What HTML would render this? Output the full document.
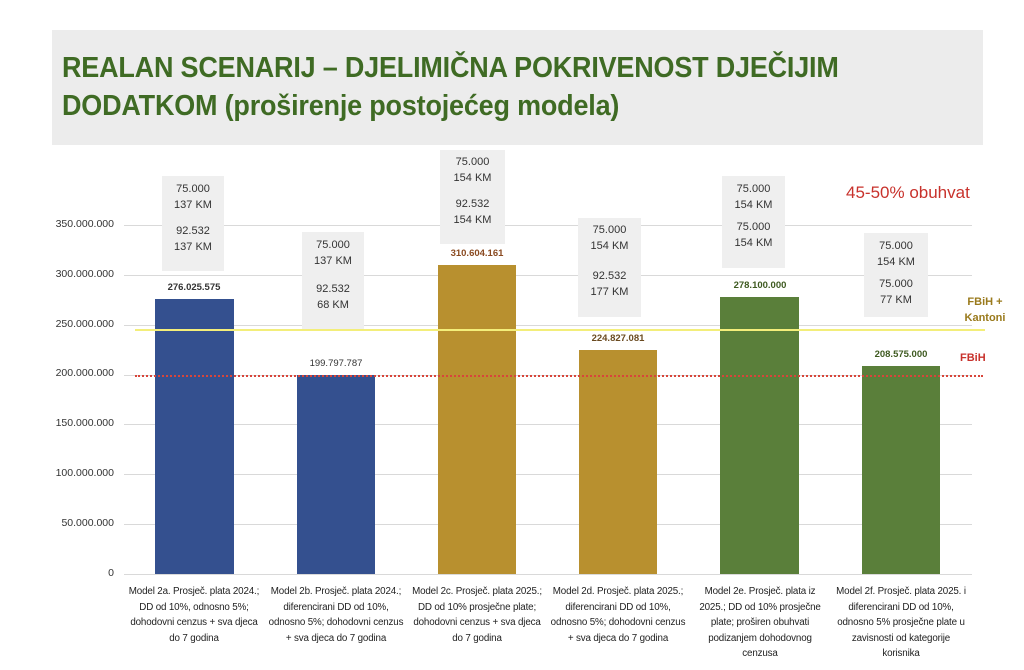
<!DOCTYPE html>
<html><head><meta charset="utf-8"><style>
body{margin:0;width:1024px;height:670px;background:#fff;position:relative;overflow:hidden;font-family:"Liberation Sans",sans-serif;}
.a{position:absolute}
.t{left:52px;top:30px;width:931px;height:115px;background:#ececec}
.t div{position:absolute;left:10px;top:19px;font-weight:bold;font-size:29px;line-height:38px;color:#3f6b24;letter-spacing:-0.2px;transform:scaleX(0.93);transform-origin:left;white-space:nowrap}
.yl{width:80px;left:34px;text-align:right;font-size:10.5px;color:#333}
.g{left:124px;width:848px;height:1px;background:#d9d9d9}
.bar{position:absolute}
.box{position:absolute;background:#efefef;text-align:center;font-size:11px;color:#333;line-height:16px}
.v{position:absolute;width:120px;text-align:center;font-size:9.5px;font-weight:bold;color:#333}
.c{position:absolute;width:142px;text-align:center;font-size:9.8px;line-height:15.5px;color:#222;top:584px;letter-spacing:-0.15px;white-space:nowrap}
</style></head><body>
<div class="a t"><div>REALAN SCENARIJ – DJELIMIČNA POKRIVENOST DJEČIJIM<br>DODATKOM (proširenje postojećeg modela)</div></div>

<div class="a g" style="top:225px"></div>
<div class="a g" style="top:275px"></div>
<div class="a g" style="top:325px"></div>
<div class="a g" style="top:375px"></div>
<div class="a g" style="top:424px"></div>
<div class="a g" style="top:474px"></div>
<div class="a g" style="top:524px"></div>
<div class="a g" style="top:574px"></div>

<div class="a yl" style="top:218px">350.000.000</div>
<div class="a yl" style="top:268px">300.000.000</div>
<div class="a yl" style="top:318px">250.000.000</div>
<div class="a yl" style="top:367px">200.000.000</div>
<div class="a yl" style="top:417px">150.000.000</div>
<div class="a yl" style="top:467px">100.000.000</div>
<div class="a yl" style="top:517px">50.000.000</div>
<div class="a yl" style="top:567px">0</div>

<div class="bar" style="left:155px;width:79px;top:299px;height:275px;background:#34508f"></div>
<div class="bar" style="left:297px;width:78px;top:375px;height:199px;background:#34508f"></div>
<div class="bar" style="left:438px;width:78px;top:265px;height:309px;background:#b8902f"></div>
<div class="bar" style="left:579px;width:78px;top:350px;height:224px;background:#b8902f"></div>
<div class="bar" style="left:720px;width:79px;top:297px;height:277px;background:#5a7f3a"></div>
<div class="bar" style="left:862px;width:78px;top:366px;height:208px;background:#5a7f3a"></div>

<div class="a" style="left:135px;top:329px;width:850px;height:2px;background:#f3ee7a"></div>
<div class="a" style="left:135px;top:375px;width:848px;border-top:2px dotted #d8453a"></div>

<div class="v" style="left:134px;top:282px">276.025.575</div>
<div class="v" style="left:276px;top:358px;font-weight:normal">199.797.787</div>
<div class="v" style="left:417px;top:248px;color:#8a4a20">310.604.161</div>
<div class="v" style="left:558px;top:333px;color:#6a4a20">224.827.081</div>
<div class="v" style="left:700px;top:280px;color:#3e5a20">278.100.000</div>
<div class="v" style="left:841px;top:349px;color:#3e5a20">208.575.000</div>

<div class="box" style="left:162px;top:176px;width:62px;height:95px;padding-top:5px;box-sizing:border-box">75.000<br>137 KM<div style="height:10px"></div>92.532<br>137 KM</div>
<div class="box" style="left:302px;top:232px;width:62px;height:97px;padding-top:5px;box-sizing:border-box">75.000<br>137 KM<div style="height:12px"></div>92.532<br>68 KM</div>
<div class="box" style="left:440px;top:150px;width:65px;height:94px;padding-top:4px;box-sizing:border-box">75.000<br>154 KM<div style="height:10px"></div>92.532<br>154 KM</div>
<div class="box" style="left:578px;top:218px;width:63px;height:99px;padding-top:4px;box-sizing:border-box">75.000<br>154 KM<div style="height:14px"></div>92.532<br>177 KM</div>
<div class="box" style="left:722px;top:176px;width:63px;height:92px;padding-top:5px;box-sizing:border-box">75.000<br>154 KM<div style="height:6px"></div>75.000<br>154 KM</div>
<div class="box" style="left:864px;top:233px;width:64px;height:84px;padding-top:5px;box-sizing:border-box">75.000<br>154 KM<div style="height:6px"></div>75.000<br>77 KM</div>

<div class="a" style="left:846px;top:183px;font-size:17px;color:#c8322c">45-50% obuhvat</div>
<div class="a" style="left:955px;top:294px;font-size:11px;font-weight:bold;color:#9a7a1c;text-align:center;line-height:16px;width:60px">FBiH +<br>Kantoni</div>
<div class="a" style="left:960px;top:352px;font-size:11px;font-weight:bold;color:#c8322c">FBiH</div>

<div class="c" style="left:123px">Model 2a. Prosječ. plata 2024.;<br>DD od 10%, odnosno 5%;<br>dohodovni cenzus + sva djeca<br>do 7 godina</div>
<div class="c" style="left:265px">Model 2b. Prosječ. plata 2024.;<br>diferencirani DD od 10%,<br>odnosno 5%; dohodovni cenzus<br>+ sva djeca do 7 godina</div>
<div class="c" style="left:406px">Model 2c. Prosječ. plata 2025.;<br>DD od 10% prosječne plate;<br>dohodovni cenzus + sva djeca<br>do 7 godina</div>
<div class="c" style="left:547px">Model 2d. Prosječ. plata 2025.;<br>diferencirani DD od 10%,<br>odnosno 5%; dohodovni cenzus<br>+ sva djeca do 7 godina</div>
<div class="c" style="left:689px">Model 2e. Prosječ. plata iz<br>2025.; DD od 10% prosječne<br>plate; proširen obuhvati<br>podizanjem dohodovnog<br>cenzusa</div>
<div class="c" style="left:830px">Model 2f. Prosječ. plata 2025. i<br>diferencirani DD od 10%,<br>odnosno 5% prosječne plate u<br>zavisnosti od kategorije<br>korisnika</div>
</body></html>
